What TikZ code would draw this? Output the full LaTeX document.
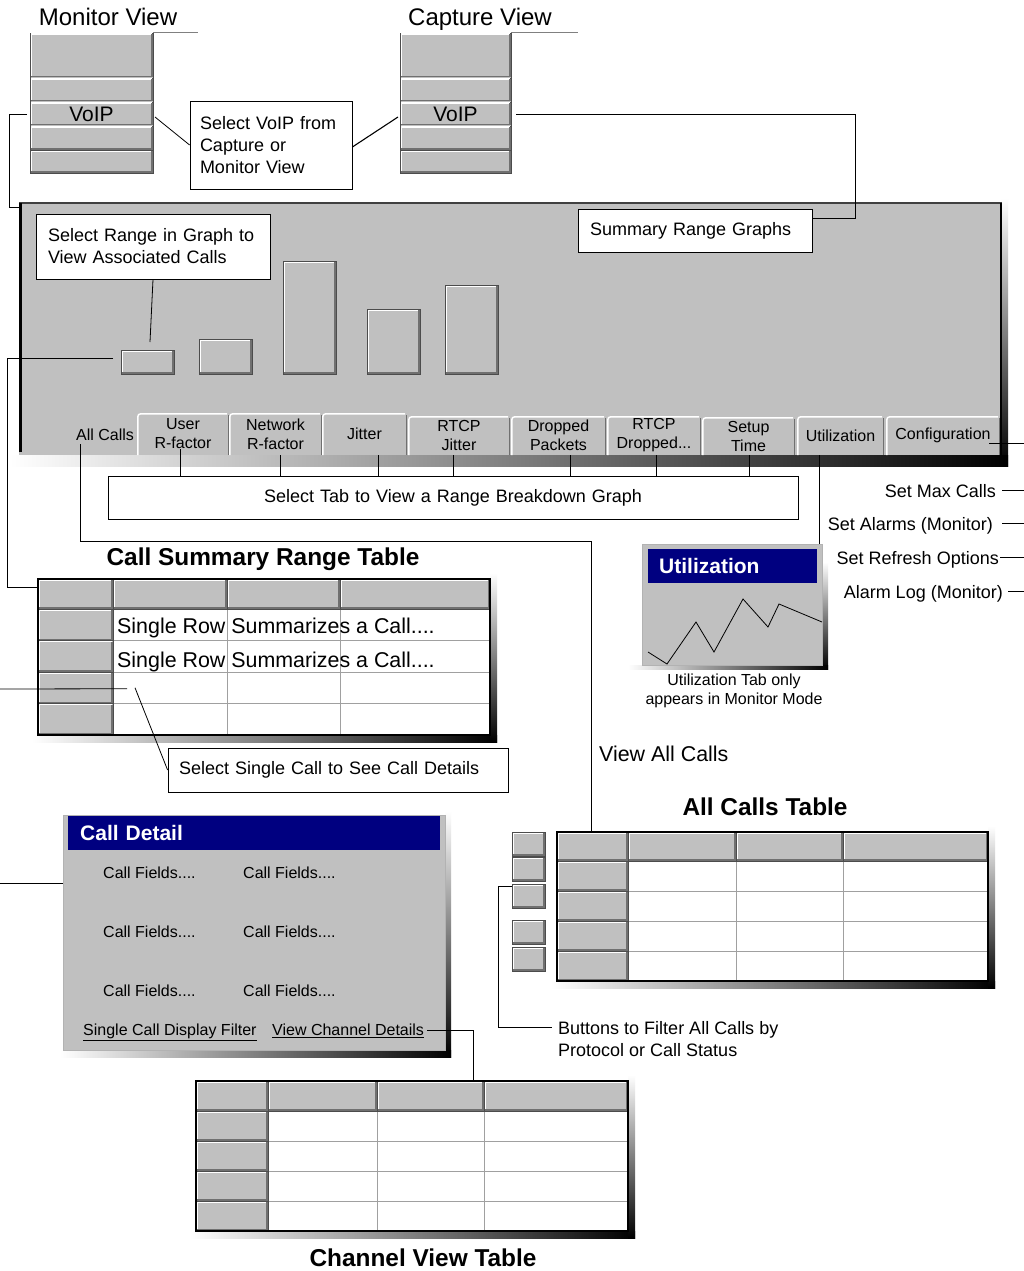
\documentclass[tikz,border=0pt]{standalone}
\usepackage{fontspec}
\setmainfont{Liberation Sans}
\usetikzlibrary{calc}
\definecolor{wgray}{HTML}{C0C0C0}
\definecolor{navyb}{HTML}{000080}
\definecolor{edgedark}{HTML}{707070}
\definecolor{gridc}{HTML}{A0A0A0}
\newcommand\fsa{\fontsize{16}{19}\selectfont}
\newcommand\fsb{\fontsize{18}{22}\selectfont}
\newcommand\fsd{\fontsize{21}{25}\selectfont}
\newcommand\fsr{\fontsize{21.4}{25}\selectfont}
\newcommand\fsc{\fontsize{24}{28}\selectfont}
\newcommand\fst{\bfseries\fontsize{24.4}{28}\selectfont}
\tikzset{
 rbtn/.style={fill=wgray, draw=black!70, line width=0.6pt, inner sep=0pt, outer sep=0pt},
 hl/.style={white, line width=1.4pt},
 sh/.style={edgedark, line width=1.4pt},
 callout/.style={draw=black, line width=0.8pt, fill=white, align=left, inner ysep=0pt, font=\fsb},
 conn/.style={black, line width=0.8pt},
 lbl/.style={inner sep=0pt},
 gridline/.style={gridc, line width=1pt},
 winbody/.style={fill=wgray, draw=gray!60, line width=0.8pt, anchor=north west, inner sep=0pt},
 titlebar/.style={fill=navyb, text=white, font=\bfseries\fsd, anchor=north west, inner ysep=0pt, align=left, minimum height=34pt},
}
% raised button: name, x1, y1, x2, y2, text
\newcommand\rbox[6]{%
 \node[rbtn, anchor=north west, minimum width={((#4)-(#2))*1pt}, minimum height={((#5)-(#3))*1pt}] (#1) at (#2,#3) {#6};
 \draw[hl] ([shift={(1.2,-1.2)}]#1.south west) -- ([shift={(1.2,1.2)}]#1.north west) -- ([shift={(-1.2,1.2)}]#1.north east);
 \draw[sh] ([shift={(-1.2,1.2)}]#1.north east) -- ([shift={(-1.2,-1.2)}]#1.south east) -- ([shift={(1.2,-1.2)}]#1.south west);
}
% tab: name, x1, top, x2, text
\newcommand\tabx[5]{%
 \node[fill=wgray, inner sep=0pt, outer sep=0pt, anchor=north west, minimum width={((#4)-(#2))*1pt}, minimum height={(455-(#3))*1pt}, align=center, font=\fsa] (#1) at (#2,#3) {#5};
 \draw[white, line width=1.5pt, rounded corners=3pt] ([xshift=0.75pt]#1.south west) -- ([xshift=0.75pt,yshift=-0.75pt]#1.north west) -- ([xshift=-2pt,yshift=-0.75pt]#1.north east);
 \draw[edgedark, line width=1.5pt] ([xshift=-0.75pt,yshift=-2pt]#1.north east) -- ([xshift=-0.75pt]#1.south east);
}
% table: name, c0..c4, r0, r1, row height
\newcommand\ptable[9]{%
 \shade[left color=white,right color=black] ({#2-6},{#8+4*#9}) rectangle ({#6+7},{#8+4*#9+7});
 \shade[top color=white,bottom color=black] (#6,{#7-6}) rectangle ({#6+7},{#8+4*#9+7});
 \node[fill=white, inner sep=0pt, outer sep=0pt, anchor=north west, minimum width={((#6)-(#2))*1pt}, minimum height={((#8)+4*(#9)-(#7))*1pt}] (#1) at (#2,#7) {};
 \foreach \k in {1,2,3}{\draw[gridline] (#3,{#8+\k*#9}) -- (#6,{#8+\k*#9});}
 \draw[gridline] (#4,#8) -- (#4,{#8+4*#9});
 \draw[gridline] (#5,#8) -- (#5,{#8+4*#9});
 \rbox{#1-h0}{#2}{#7}{#3}{#8}{}
 \rbox{#1-h1}{#3}{#7}{#4}{#8}{}
 \rbox{#1-h2}{#4}{#7}{#5}{#8}{}
 \rbox{#1-h3}{#5}{#7}{#6}{#8}{}
 \rbox{#1-r1}{#2}{#8}{#3}{#8+#9}{}
 \rbox{#1-r2}{#2}{#8+#9}{#3}{#8+2*#9}{}
 \rbox{#1-r3}{#2}{#8+2*#9}{#3}{#8+3*#9}{}
 \rbox{#1-r4}{#2}{#8+3*#9}{#3}{#8+4*#9}{}
 \draw[black, line width=1.5pt] (#1.north west) rectangle (#1.south east);
}
\begin{document}
\begin{tikzpicture}[x=1pt,y=-1pt]
\fill[white] (0,0) rectangle (1024,1271);
\useasboundingbox (0,0) rectangle (1024,1271);

% ---------- view stacks ----------
\node[lbl, font=\fsc, anchor=base] (monlbl) at (108,25.6) {Monitor View};
\node[lbl, font=\fsc, anchor=base] (caplbl) at (480,25.6) {Capture View};
\rbox{mon1}{30}{33}{153}{78}{}
\rbox{mon2}{30}{78}{153}{102}{}
\rbox{monv}{30}{102}{153}{126}{\fsd VoIP}
\rbox{mon4}{30}{126}{153}{150}{}
\rbox{mon5}{30}{150}{153}{173}{}
\rbox{cap1}{400}{33}{511}{78}{}
\rbox{cap2}{400}{78}{511}{102}{}
\rbox{capv}{400}{102}{511}{126}{\fsd VoIP}
\rbox{cap4}{400}{126}{511}{150}{}
\rbox{cap5}{400}{150}{511}{173}{}
\coordinate (monline) at (198,32);
\coordinate (capline) at (578,32);
\draw[gray, line width=0.8pt] ([yshift=1pt]mon1.north east) -- (monline);
\draw[gray, line width=0.8pt] ([yshift=1pt]cap1.north east) -- (capline);

\node[callout, inner xsep=10pt, text width=142pt, minimum height=88pt] (selvoip) at (271,145) {Select VoIP from\\Capture or\\Monitor View};
\draw[conn] ([shift={(2,3)}]monv.east) -- (selvoip.west);
\draw[conn, line width=1.1pt] ([yshift=-2pt]selvoip.east) -- ([shift={(-2,3)}]capv.west);

% ---------- main panel ----------
\shade[top color=white, bottom color=black] (1001,198) rectangle (1008,466);
\shade[left color=white, right color=black] (10,455) rectangle (1008,466);
\node[fill=wgray, anchor=north west, minimum width=983pt, minimum height=252pt, inner sep=0pt, outer sep=0pt] (panel) at (19,203) {};
\draw[black!75, line width=2pt] (panel.north west) -- (panel.north east);
\draw[black, line width=3pt] ([shift={(1.5,-3)}]panel.south west) -- ([xshift=1.5pt]panel.north west);
\draw[black, line width=2.5pt] ([xshift=-1.2pt]panel.north east) -- ([xshift=-1.2pt]panel.south east);

\coordinate (mturn) at (9,207);
\draw[conn] ([xshift=-3pt]monv.west) -| (mturn) -- (mturn -| panel.west);

\node[callout, inner xsep=12pt, text width=210pt, minimum height=65pt] (selrange) at (153,246.5) {Select Range in Graph to\\View Associated Calls};
\node[callout, inner xsep=12pt, text width=210pt, minimum height=43pt] (srg) at (695,230.5) {Summary Range Graphs};
\coordinate (srgturn) at (855,218);
\coordinate (srgc) at ([yshift=12.5pt]srg.east);
\draw[conn] ([xshift=5pt]capv.east) -| (srgturn) -- (srgc);

\rbox{bar1}{121}{350}{174}{374}{}
\rbox{bar2}{199}{339}{252}{374}{}
\rbox{bar3}{283}{261}{336}{374}{}
\rbox{bar4}{367}{309}{420}{374}{}
\rbox{bar5}{445}{285}{498}{374}{}
\draw[conn] (selrange.south) -- ([shift={(2.5,-8)}]bar1.north);

\node[lbl, font=\fsa, anchor=base] (allcalls) at (105,440.8) {All Calls};
\tabx{tuser}{137}{413}{229}{User\\R-factor}
\tabx{tnet}{229}{413}{322}{Network\\R-factor}
\tabx{tjit}{322}{413}{407}{Jitter}
\tabx{trj}{408}{416}{510}{RTCP\\Jitter}
\tabx{tdrop}{511}{416}{606}{Dropped\\Packets}
\tabx{trd}{607}{416}{701}{RTCP\\Dropped...}
\tabx{tsetup}{702}{417}{795}{Setup\\Time}
\tabx{tutil}{797}{416}{884}{Utilization}
\tabx{tconf}{886}{416}{1000}{Configuration}

\node[callout, align=center, inner xsep=0pt, text width=690pt, minimum height=43pt] (seltab) at (453,497.5) {Select Tab to View a Range Breakdown Graph};
\coordinate (t1) at ([xshift=-3pt,yshift=6pt]tuser.south);
\coordinate (t2) at ([xshift=4.5pt]tnet.south);
\coordinate (t3) at ([xshift=13.5pt]tjit.south);
\coordinate (t4) at ([xshift=-6pt]trj.south);
\coordinate (t5) at ([xshift=11.5pt]tdrop.south);
\coordinate (t6) at ([xshift=2pt]trd.south);
\coordinate (t7) at ([xshift=0.5pt]tsetup.south);
\foreach \c in {t1,t2,t3,t4,t5,t6,t7}{\draw[conn] (\c) -- (\c |- seltab.north);}

% ---------- configuration options ----------
\coordinate (cf1) at ([xshift=-11pt,yshift=-7.5pt]tconf.east);
\coordinate (redge) at (1024,443);
\draw[conn] (cf1) -- (redge);
\node[lbl, font=\fsb, anchor=base east, inner xsep=6pt] (smax) at (1002,497.5) {Set Max Calls};
\node[lbl, font=\fsb, anchor=base east, inner xsep=9pt] (salarm) at (1002,530.5) {Set Alarms (Monitor)};
\node[lbl, font=\fsb, anchor=base east, inner xsep=1pt] (srefresh) at (1000,564.5) {Set Refresh Options};
\node[lbl, font=\fsb, anchor=base east, inner xsep=5pt] (alog) at (1008,598.5) {Alarm Log (Monitor)};
\foreach \c in {smax,salarm,srefresh,alog}{\draw[conn, line width=1.3pt] ([yshift=7pt]\c.base east) -- ([yshift=7pt]\c.base east -| redge);}

% ---------- utilization window ----------
\shade[top color=white, bottom color=black] (822,562) rectangle (828,669);
\shade[left color=white, right color=black] (628,665) rectangle (828,669);
\node[winbody, minimum width=180pt, minimum height=121pt] (utilwin) at (642,544) {};
\node[titlebar, inner xsep=11pt, text width=147pt] (utitle) at (648,549) {Utilization};
\draw[line width=0.8pt] (648,652) -- (667,664) -- (696,622) -- (714,652) -- (743,599) -- (768,627) -- (779,604) -- (822,622);
\node[font=\fsa, align=center, inner sep=0pt] (ucap) at (734,691) {Utilization Tab only\\appears in Monitor Mode};
\coordinate (ut1) at ([xshift=-21.5pt]tutil.south);
\draw[conn] (ut1) -- (ut1 |- utilwin.north);

% ---------- call summary range table ----------
\node[lbl, font=\fst, anchor=base] (csttitle) at (263,565.5) {Call Summary Range Table};
\ptable{cst}{38}{113}{227}{340}{490}{579}{609}{31.5}
\node[lbl, font=\fsr, anchor=base west] (row1txt) at (117,633.7) {Single Row Summarizes a Call....};
\node[lbl, font=\fsr, anchor=base west] (row2txt) at (117,667.7) {Single Row Summarizes a Call....};
\coordinate (b1l) at ([shift={(-8,-4)}]bar1.west);
\coordinate (lturn1) at (7,587);
\draw[conn] (b1l) -| (lturn1) -- (lturn1 -| cst.west);
\node[callout, inner xsep=11pt, text width=318pt, minimum height=44pt] (selcall) at (338,770) {Select Single Call to See Call Details};
\coordinate (lcut1) at (0,689);
\draw[conn] (lcut1) -- ([shift={(14,1)}]cst-r3.east);
\draw[conn] ([xshift=22pt]cst-r3.east) -- (selcall.west);

% ---------- all calls table ----------
\coordinate (ac1) at ([xshift=4pt,yshift=-3pt]allcalls.south west);
\coordinate (acturn) at (591,541);
\node[lbl, font=\fsr, anchor=base west] (vac) at (599,761.6) {View All Calls};
\node[lbl, font=\fst, anchor=base] (acttitle) at (765,815.5) {All Calls Table};
\ptable{act}{557}{628}{736}{843}{988}{832}{861}{30}
\draw[conn] (ac1) |- (acturn) -- (acturn |- act-h0.north);
\rbox{fb1}{512}{832}{545}{856}{}
\rbox{fb2}{512}{857}{545}{881}{}
\rbox{fb3}{512}{884}{545}{908}{}
\rbox{fb4}{512}{920}{545}{944}{}
\rbox{fb5}{512}{947}{545}{971}{}
\node[font=\fsb, align=left, anchor=north west, inner xsep=6pt, inner ysep=0pt] (ftext) at (552,1021) {Buttons to Filter All Calls by\\Protocol or Call Status};
\coordinate (fturn) at (498,1027);
\draw[conn] ([yshift=10pt]fb3.west) -| (fturn) -- (fturn -| ftext.west);

% ---------- call detail window ----------
\shade[top color=white, bottom color=black] (445,811) rectangle (451,1057);
\shade[left color=white, right color=black] (60,1050) rectangle (451,1057);
\node[winbody, minimum width=382pt, minimum height=235pt] (cd) at (63,815) {};
\node[titlebar, inner xsep=12pt, text width=348pt] (cdtitle) at (68,816) {Call Detail};
\node[lbl, font=\fsa, anchor=base west] (f11) at (103,878.8) {Call Fields....};
\node[lbl, font=\fsa, anchor=base west] (f12) at (243,878.8) {Call Fields....};
\node[lbl, font=\fsa, anchor=base west] (f21) at (103,937.8) {Call Fields....};
\node[lbl, font=\fsa, anchor=base west] (f22) at (243,937.8) {Call Fields....};
\node[lbl, font=\fsa, anchor=base west] (f31) at (103,996.8) {Call Fields....};
\node[lbl, font=\fsa, anchor=base west] (f32) at (243,996.8) {Call Fields....};
\node[lbl, font=\fsa, anchor=base west] (scdf) at (83,1035.8) {\underline{Single Call Display Filter}};
\node[lbl, font=\fsa, anchor=base west] (vcd) at (272,1035.8) {\underline{View Channel Details}};
\coordinate (lcut2) at (0,883);
\draw[conn] (lcut2) -- (lcut2 -| cd.west);

% ---------- channel view table ----------
\ptable{cht}{196}{268}{377}{484}{628}{1081}{1111}{30}
\node[lbl, font=\fst, anchor=base] (chttitle) at (423,1266.5) {Channel View Table};
\draw[conn] ([shift={(3,-5)}]vcd.base east) -| ([xshift=42.5pt]cht-h2.north);
\end{tikzpicture}
\end{document}
